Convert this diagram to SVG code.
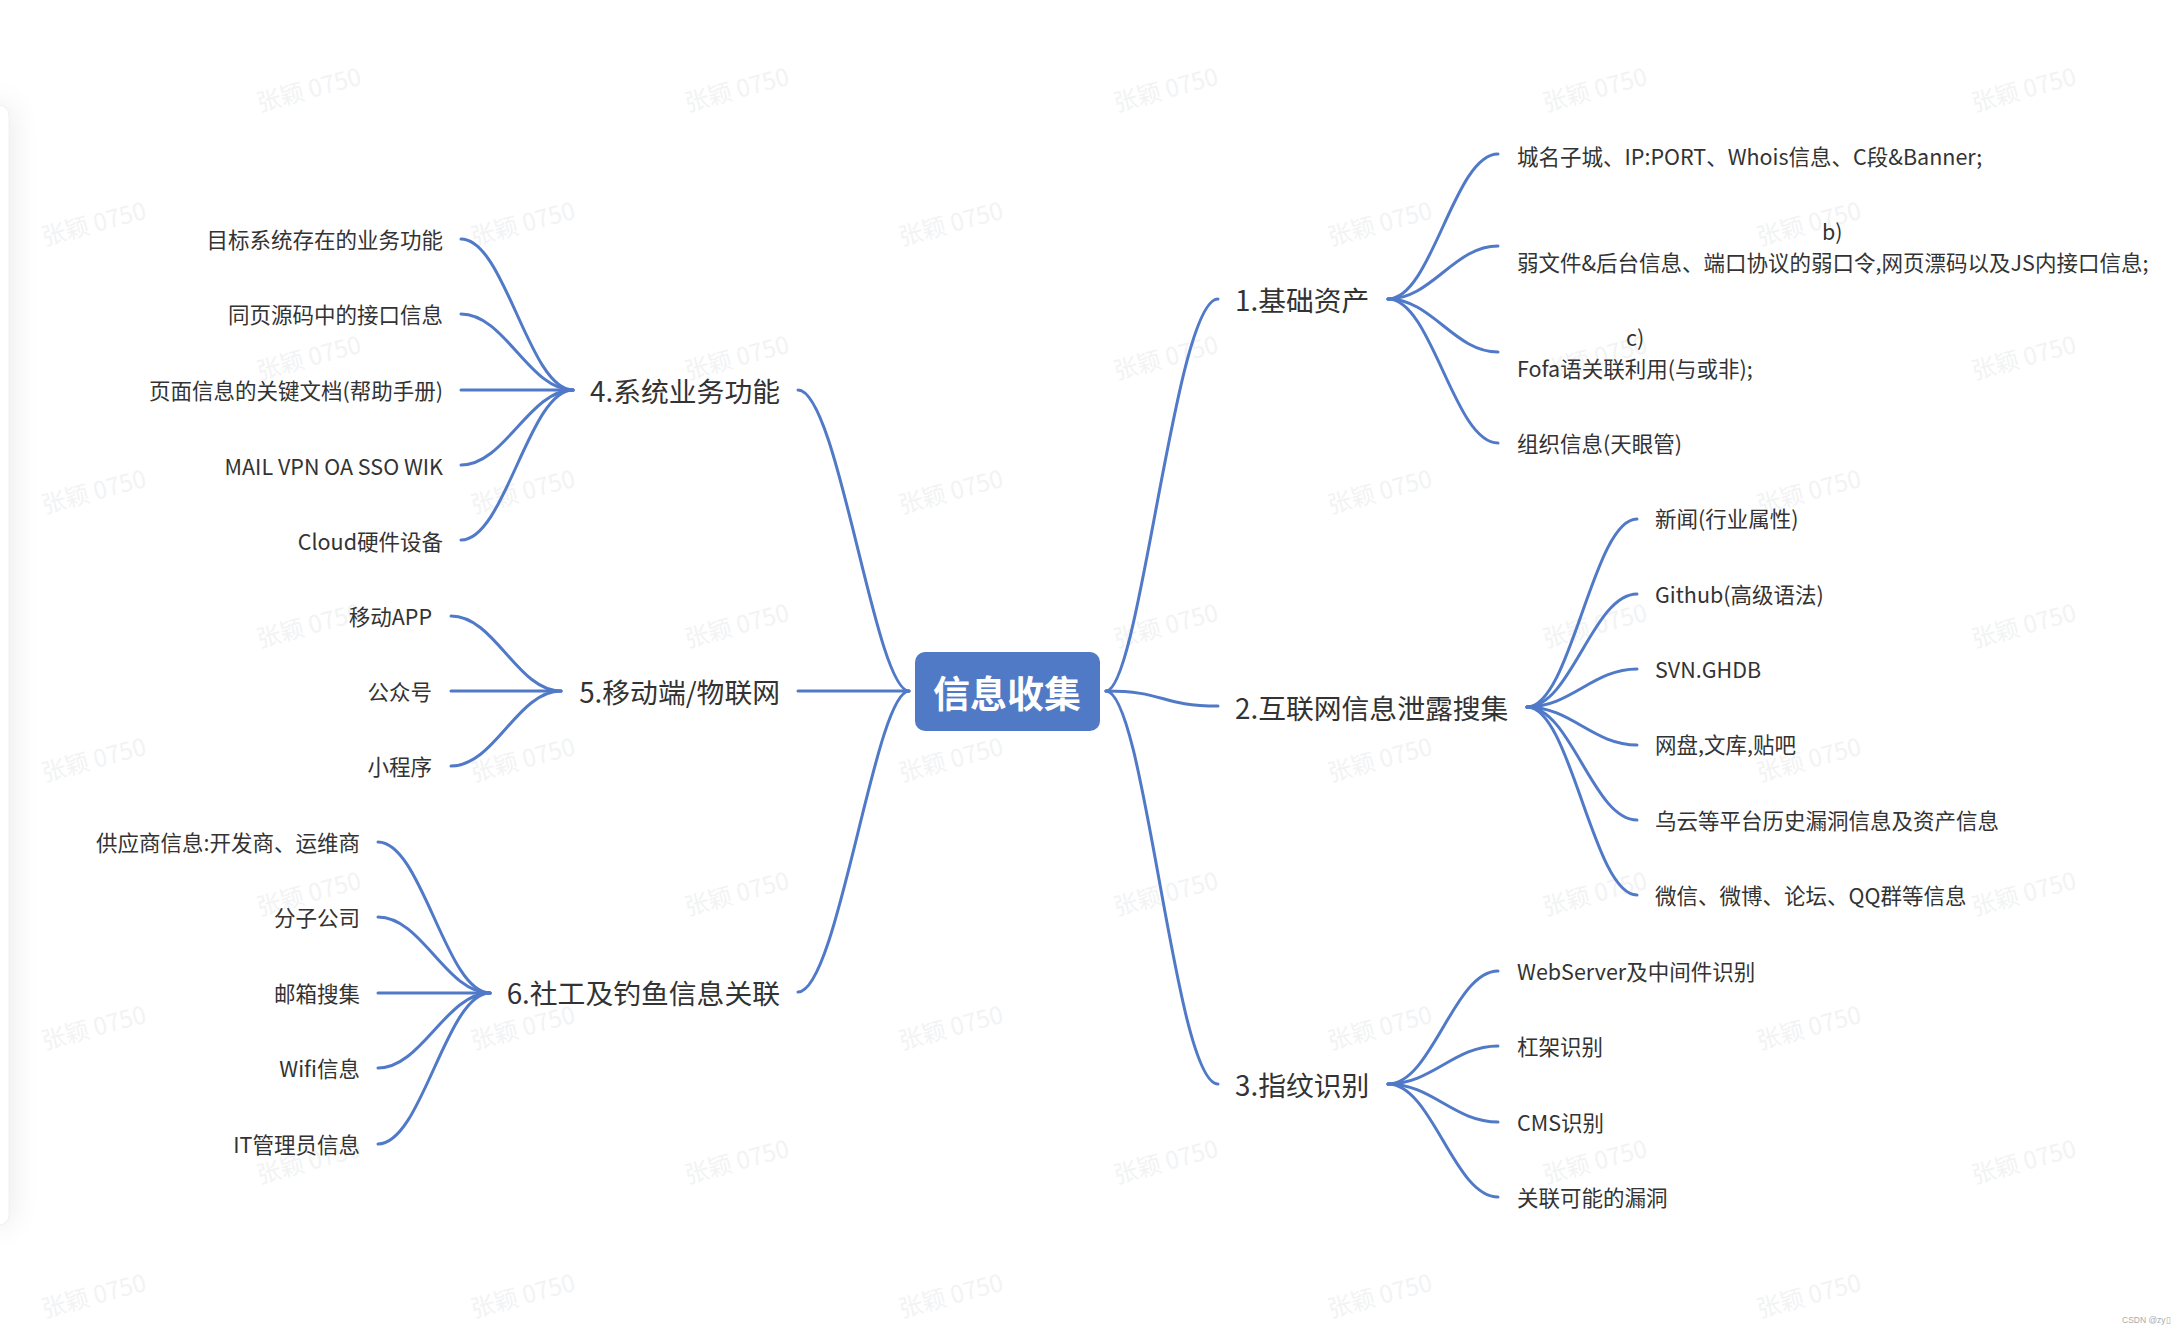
<svg xmlns="http://www.w3.org/2000/svg" width="2182" height="1334" viewBox="0 0 2182 1334">
<style>
text{font-family:"Noto Sans CJK SC","Noto Sans",sans-serif;fill:#333}
.w{font-size:24px;fill:#f2f3f4;text-anchor:middle}
.l{font-size:21.5px}
.e{text-anchor:end}
.b{font-size:27.8px}
.c{fill:none;stroke:#5079c8;stroke-width:3;stroke-linecap:round}
.r{fill:#5079c6}
.t{font-size:37px;font-weight:700;fill:#fff;text-anchor:middle}
</style>
<defs>
<filter id="sh" x="-300%" y="-10%" width="700%" height="120%"><feGaussianBlur stdDeviation="16"/></filter>
<text id="wm" class="w" transform="rotate(-15)">张颖 0750</text>
</defs>
<rect width="2182" height="1334" fill="#fff"/>
<g id="panel">
<rect x="-20" y="105" width="29" height="1120" rx="10" fill="#000" opacity=".1" filter="url(#sh)"/>
<rect x="-20" y="105" width="29" height="1120" rx="10" fill="#fff" stroke="#f0f0f2"/>
</g>
<g id="watermarks">
<use href="#wm" transform="translate(311,98)"/><use href="#wm" transform="translate(739,98)"/><use href="#wm" transform="translate(1168,98)"/><use href="#wm" transform="translate(1597,98)"/><use href="#wm" transform="translate(2026,98)"/>
<use href="#wm" transform="translate(96,232)"/><use href="#wm" transform="translate(525,232)"/><use href="#wm" transform="translate(953,232)"/><use href="#wm" transform="translate(1382,232)"/><use href="#wm" transform="translate(1811,232)"/>
<use href="#wm" transform="translate(311,366)"/><use href="#wm" transform="translate(739,366)"/><use href="#wm" transform="translate(1168,366)"/><use href="#wm" transform="translate(1597,366)"/><use href="#wm" transform="translate(2026,366)"/>
<use href="#wm" transform="translate(96,500)"/><use href="#wm" transform="translate(525,500)"/><use href="#wm" transform="translate(953,500)"/><use href="#wm" transform="translate(1382,500)"/><use href="#wm" transform="translate(1811,500)"/>
<use href="#wm" transform="translate(311,634)"/><use href="#wm" transform="translate(739,634)"/><use href="#wm" transform="translate(1168,634)"/><use href="#wm" transform="translate(1597,634)"/><use href="#wm" transform="translate(2026,634)"/>
<use href="#wm" transform="translate(96,768)"/><use href="#wm" transform="translate(525,768)"/><use href="#wm" transform="translate(953,768)"/><use href="#wm" transform="translate(1382,768)"/><use href="#wm" transform="translate(1811,768)"/>
<use href="#wm" transform="translate(311,902)"/><use href="#wm" transform="translate(739,902)"/><use href="#wm" transform="translate(1168,902)"/><use href="#wm" transform="translate(1597,902)"/><use href="#wm" transform="translate(2026,902)"/>
<use href="#wm" transform="translate(96,1036)"/><use href="#wm" transform="translate(525,1036)"/><use href="#wm" transform="translate(953,1036)"/><use href="#wm" transform="translate(1382,1036)"/><use href="#wm" transform="translate(1811,1036)"/>
<use href="#wm" transform="translate(311,1170)"/><use href="#wm" transform="translate(739,1170)"/><use href="#wm" transform="translate(1168,1170)"/><use href="#wm" transform="translate(1597,1170)"/><use href="#wm" transform="translate(2026,1170)"/>
<use href="#wm" transform="translate(96,1304)"/><use href="#wm" transform="translate(525,1304)"/><use href="#wm" transform="translate(953,1304)"/><use href="#wm" transform="translate(1382,1304)"/><use href="#wm" transform="translate(1811,1304)"/>
</g>
<g id="connectors">
<path class="c" d="M1106 691C1140 691 1175 299 1218 299"/>
<path class="c" d="M1106 691C1165 691 1160 706 1218 706"/>
<path class="c" d="M1106 691C1145 691 1175 1084 1218 1084"/>
<path class="c" d="M909 691C875 691 838 390 798 390"/>
<path class="c" d="M909 691H798"/>
<path class="c" d="M909 691C875 691 838 992 798 992"/>
<path class="c" d="M1388 299C1432 299 1454 154 1498 154"/>
<path class="c" d="M1388 299C1432 299 1454 246 1498 246"/>
<path class="c" d="M1388 299C1432 299 1454 352 1498 352"/>
<path class="c" d="M1388 299C1432 299 1454 443 1498 443"/>
<path class="c" d="M1527 707C1571 707 1593 519 1637 519"/>
<path class="c" d="M1527 707C1571 707 1593 594 1637 594"/>
<path class="c" d="M1527 707C1571 707 1593 669 1637 669"/>
<path class="c" d="M1527 707C1571 707 1593 745 1637 745"/>
<path class="c" d="M1527 707C1571 707 1593 820 1637 820"/>
<path class="c" d="M1527 707C1571 707 1593 895 1637 895"/>
<path class="c" d="M1388 1084C1432 1084 1454 971 1498 971"/>
<path class="c" d="M1388 1084C1432 1084 1454 1046 1498 1046"/>
<path class="c" d="M1388 1084C1432 1084 1454 1122 1498 1122"/>
<path class="c" d="M1388 1084C1432 1084 1454 1197 1498 1197"/>
<path class="c" d="M573 390C529 390 505 239 461 239"/>
<path class="c" d="M573 390C529 390 505 314 461 314"/>
<path class="c" d="M573 390H461"/>
<path class="c" d="M573 390C529 390 505 465 461 465"/>
<path class="c" d="M573 390C529 390 505 540 461 540"/>
<path class="c" d="M561 691C517 691 495 616 451 616"/>
<path class="c" d="M561 691H451"/>
<path class="c" d="M561 691C517 691 495 766 451 766"/>
<path class="c" d="M490 993C446 993 422 842 378 842"/>
<path class="c" d="M490 993C446 993 422 917 378 917"/>
<path class="c" d="M490 993H378"/>
<path class="c" d="M490 993C446 993 422 1068 378 1068"/>
<path class="c" d="M490 993C446 993 422 1144 378 1144"/>
</g>
<g id="root"><rect class="r" x="915" y="652" width="185" height="79" rx="10"/><text class="t" x="1007" y="708">信息收集</text></g>
<g id="b1"><text class="b" x="1235" y="311">1.基础资产</text></g>
<g id="b2"><text class="b" x="1235" y="719">2.互联网信息泄露搜集</text></g>
<g id="b3"><text class="b" x="1235" y="1096">3.指纹识别</text></g>
<g id="b4"><text class="b e" x="780" y="402">4.系统业务功能</text></g>
<g id="b5"><text class="b e" x="780" y="703">5.移动端/物联网</text></g>
<g id="b6"><text class="b e" x="780" y="1004">6.社工及钓鱼信息关联</text></g>
<g id="n11"><text class="l" x="1517" y="165">城名子城、IP:PORT、Whois信息、C段&amp;Banner;</text></g>
<g id="b-label"><text class="l" x="1822" y="240">b)</text></g>
<g id="n12"><text class="l" x="1517" y="271">弱文件&amp;后台信息、端口协议的弱口令,网页漂码以及JS内接口信息;</text></g>
<g id="c-label"><text class="l" x="1626" y="346">c)</text></g>
<g id="n13"><text class="l" x="1517" y="377">Fofa语关联利用(与或非);</text></g>
<g id="n14"><text class="l" x="1517" y="452">组织信息(天眼管)</text></g>
<g id="n21"><text class="l" x="1655" y="527">新闻(行业属性)</text></g>
<g id="n22"><text class="l" x="1655" y="603">Github(高级语法)</text></g>
<g id="n23"><text class="l" x="1655" y="678">SVN.GHDB</text></g>
<g id="n24"><text class="l" x="1655" y="753">网盘,文库,贴吧</text></g>
<g id="n25"><text class="l" x="1655" y="829">乌云等平台历史漏洞信息及资产信息</text></g>
<g id="n26"><text class="l" x="1655" y="904">微信、微博、论坛、QQ群等信息</text></g>
<g id="n31"><text class="l" x="1517" y="980">WebServer及中间件识别</text></g>
<g id="n32"><text class="l" x="1517" y="1055">杠架识别</text></g>
<g id="n33"><text class="l" x="1517" y="1131">CMS识别</text></g>
<g id="n34"><text class="l" x="1517" y="1206">关联可能的漏洞</text></g>
<g id="n41"><text class="l e" x="443" y="248">目标系统存在的业务功能</text></g>
<g id="n42"><text class="l e" x="443" y="323">同页源码中的接口信息</text></g>
<g id="n43"><text class="l e" x="443" y="399">页面信息的关键文档(帮助手册)</text></g>
<g id="n44"><text class="l e" x="443" y="475">MAIL VPN OA SSO WIK</text></g>
<g id="n45"><text class="l e" x="443" y="550">Cloud硬件设备</text></g>
<g id="n51"><text class="l e" x="432" y="625">移动APP</text></g>
<g id="n52"><text class="l e" x="432" y="700">公众号</text></g>
<g id="n53"><text class="l e" x="432" y="775">小程序</text></g>
<g id="n61"><text class="l e" x="360" y="851">供应商信息:开发商、运维商</text></g>
<g id="n62"><text class="l e" x="360" y="926">分子公司</text></g>
<g id="n63"><text class="l e" x="360" y="1002">邮箱搜集</text></g>
<g id="n64"><text class="l e" x="360" y="1077">Wifi信息</text></g>
<g id="n65"><text class="l e" x="360" y="1153">IT管理员信息</text></g>
<text x="2122" y="1323" style="font-size:8.5px;fill:#aaa;font-family:'Liberation Sans',sans-serif">CSDN @zy▯</text>
</svg>
